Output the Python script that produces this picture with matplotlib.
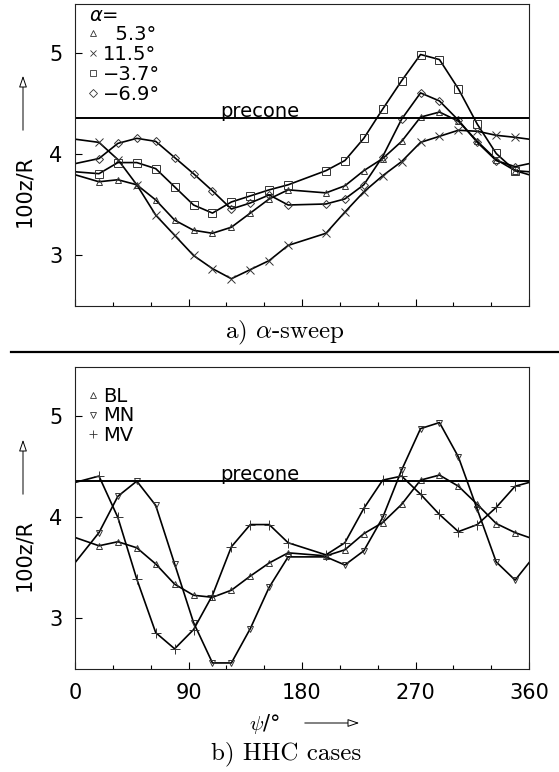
import matplotlib
matplotlib.use('Agg')
import matplotlib.pyplot as plt
from matplotlib.lines import Line2D
from matplotlib.patches import FancyArrowPatch

plt.rcParams['font.family'] = 'DejaVu Sans'
plt.rcParams['mathtext.fontset'] = 'dejavusans'

# blade azimuth of the data points (deg), no point at 184
psi = [19, 34, 49, 64, 79, 94, 109, 124, 139, 154, 169,
       199, 214, 229, 244, 259, 274, 289, 304, 319, 334, 349]

# a) alpha sweep, 100 z/R
z_a53 = [3.73, 3.75, 3.70, 3.55, 3.35, 3.25, 3.22, 3.28, 3.42, 3.56, 3.65,
         3.62, 3.69, 3.84, 3.96, 4.13, 4.37, 4.42, 4.33, 4.13, 3.95, 3.84]
z_a115 = [4.12, 3.95, 3.70, 3.40, 3.20, 3.00, 2.87, 2.77, 2.86, 2.95, 3.10,
          3.22, 3.43, 3.63, 3.79, 3.93, 4.12, 4.18, 4.24, 4.23, 4.19, 4.17]
z_am37 = [3.81, 3.92, 3.92, 3.86, 3.68, 3.50, 3.42, 3.53, 3.59, 3.65, 3.70,
          3.84, 3.94, 4.16, 4.45, 4.73, 4.99, 4.94, 4.65, 4.30, 4.01, 3.84]
z_am69 = [3.96, 4.11, 4.16, 4.13, 3.97, 3.81, 3.64, 3.46, 3.52, 3.60, 3.50,
          3.51, 3.56, 3.70, 3.98, 4.35, 4.61, 4.53, 4.34, 4.12, 3.94, 3.88]

# b) HHC cases
z_bl = [3.72, 3.76, 3.70, 3.54, 3.34, 3.23, 3.21, 3.28, 3.42, 3.55, 3.65,
        3.62, 3.68, 3.84, 3.95, 4.13, 4.37, 4.42, 4.31, 4.13, 3.94, 3.85]
z_mn = [3.85, 4.21, 4.36, 4.12, 3.54, 2.96, 2.56, 2.56, 2.90, 3.31, 3.61,
        3.61, 3.53, 3.67, 4.00, 4.47, 4.88, 4.94, 4.60, 4.08, 3.56, 3.38]
z_mv = [4.41, 4.00, 3.39, 2.86, 2.70, 2.89, 3.23, 3.71, 3.93, 3.93, 3.75,
        3.63, 3.75, 4.09, 4.37, 4.41, 4.23, 4.03, 3.86, 3.93, 4.10, 4.31]

precone = 4.36

labels_a = ['\u20075.3\u00b0', '11.5\u00b0', '\u22123.7\u00b0', '\u22126.9\u00b0']
markers_a = ['^', 'x', 's', 'D']
sizes_a = [5, 6, 5.5, 4.5]
labels_b = ['BL', 'MN', 'MV']
markers_b = ['^', 'v', '+']
sizes_b = [5, 5, 7]

W, H = 559, 772


def wrap(y):
    # psi is periodic: repeat end points one revolution away so the lines reach the frame
    return [psi[-1] - 360] + psi + [psi[0] + 360], [y[-1]] + list(y) + [y[0]]


def panel(ax, series, markers, sizes):
    for y, m, s in zip(series, markers, sizes):
        x, yy = wrap(y)
        ax.plot(x, yy, color='black', lw=1.2, marker=m, ms=s, mfc='none',
                mec='#333333', mew=0.7)
    ax.axhline(precone, color='black', lw=1.4)
    ax.text(115, precone + 0.01, 'precone', fontsize=14, va='baseline', ha='left')
    ax.set_xlim(0, 360)
    ax.set_ylim(2.5, 5.49)
    ax.set_xticks([0, 90, 180, 270, 360])
    ax.set_xticks(range(0, 361, 30), minor=True)
    ax.set_yticks([3, 4, 5])
    ax.tick_params(direction='in', length=5, width=0.8, labelsize=15, pad=9)
    ax.tick_params(which='minor', direction='in', length=3, width=0.8)
    for sp in ax.spines.values():
        sp.set_linewidth(0.8)
        sp.set_color('#222222')


def legend(ax, markers, sizes, labels, anchor, title=None):
    handles = [Line2D([], [], ls='none', marker=m, ms=s * 0.8, mfc='none',
                      mec='#333333', mew=0.6) for m, s in zip(markers, sizes)]
    lg = ax.legend(handles, labels, loc='upper left', bbox_to_anchor=anchor,
                   frameon=False, fontsize=14, handlelength=0.5, handletextpad=0.25,
                   labelspacing=0.04, borderpad=0, borderaxespad=0,
                   title=title, title_fontsize=14, alignment='left')
    return lg


def ylabel(yc, y0, y1):
    fig.text(24 / W, 1 - yc / H, '100z/R', rotation=90, fontsize=15,
             ha='center', va='center')
    fig.add_artist(FancyArrowPatch((23 / W, 1 - y0 / H), (23 / W, 1 - y1 / H),
                                   transform=fig.transFigure,
                                   arrowstyle='-|>,head_length=7,head_width=2.4',
                                   mutation_scale=1, fc='white', ec='black', lw=0.7))


fig = plt.figure(figsize=(W / 100, H / 100), dpi=100)

ax1 = fig.add_axes([75 / W, 1 - 306 / H, 454 / W, 302 / H])
panel(ax1, [z_a53, z_a115, z_am37, z_am69], markers_a, sizes_a)
ax1.set_xticklabels([])
legend(ax1, markers_a, sizes_a, labels_a, (0.03, 0.995), title=r'$\alpha$=')
ylabel(191, 133, 73)

ax2 = fig.add_axes([75 / W, 1 - 669 / H, 454 / W, 302 / H])
panel(ax2, [z_bl, z_mn, z_mv], markers_b, sizes_b)
ax2.tick_params(axis='x', pad=10)
legend(ax2, markers_b, sizes_b, labels_b, (0.03, 0.935))
ylabel(555, 497, 437)

# x label with arrow
fig.text(265 / W, 1 - 724 / H, r'$\psi$/' + '\u00b0', fontsize=15,
         ha='center', va='center', math_fontfamily='cm')
fig.add_artist(FancyArrowPatch((302 / W, 1 - 723 / H), (362 / W, 1 - 723 / H),
                               transform=fig.transFigure,
                               arrowstyle='-|>,head_length=7,head_width=2.4',
                               mutation_scale=1, fc='white', ec='black', lw=0.7))

# captions and separator
fig.text(285 / W, 1 - 333 / H, r'a) $\alpha$-sweep', family='cmr10', fontsize=18,
         ha='center', va='center', math_fontfamily='cm')
fig.text(286 / W, 1 - 754 / H, 'b) HHC cases', family='cmr10', fontsize=18,
         ha='center', va='center')
fig.add_artist(Line2D([11 / W, 1], [1 - 352 / H, 1 - 352 / H], color='black', lw=1.6,
                      transform=fig.transFigure))

fig.savefig('out.png', dpi=100)
